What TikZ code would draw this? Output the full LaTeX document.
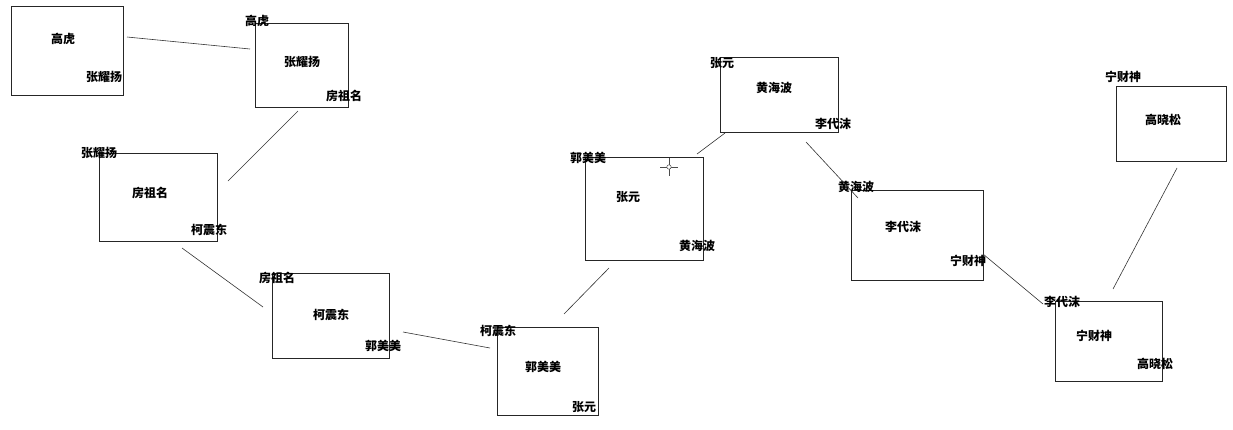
\documentclass[tikz,border=0pt]{standalone}
\usepackage{fontspec}
\newfontfamily\cjk{Noto Sans CJK SC}
\begin{document}
\begin{tikzpicture}[x=1pt,y=-1pt,
  box/.style={draw=black!85,line width=0.9pt},
  lbl/.style={inner sep=0pt,font=\cjk\fontsize{12}{12}\selectfont\bfseries},
  link/.style={draw=black!80,line width=0.6pt}]
\useasboundingbox (0,0) rectangle (1233,429);
% boxes
\draw[box] (11,6) rectangle (123,95) coordinate (b1);
\draw[box] (255,23) rectangle (348,107);
\draw[box] (99,153) rectangle (217,241);
\draw[box] (272,273) rectangle (389,358);
\draw[box] (497,327) rectangle (598,415);
\draw[box] (585,157) rectangle (703,260);
\draw[box] (720,57) rectangle (838,132);
\draw[box] (851,190) rectangle (983,280);
\draw[box] (1055,301) rectangle (1162,381);
\draw[box] (1116,86) rectangle (1226,161);
% labels
\node[lbl] (c1) at (63,39) {高虎};
\node[lbl] (r1) at (104,77) {张耀扬};
\node[lbl] (t2) at (257,21) {高虎};
\node[lbl] (c2) at (302,62) {张耀扬};
\node[lbl] (r2) at (344,96) {房祖名};
\node[lbl] (t3) at (99,153) {张耀扬};
\node[lbl] (c3) at (150,193) {房祖名};
\node[lbl] (r3) at (209,230) {柯震东};
\node[lbl] (t4) at (277,278) {房祖名};
\node[lbl] (c4) at (331,315) {柯震东};
\node[lbl] (r4) at (383,346) {郭美美};
\node[lbl] (t5) at (498,331) {柯震东};
\node[lbl] (c5) at (543,367) {郭美美};
\node[lbl] (r5) at (584,407) {张元};
\node[lbl] (t6) at (588,158) {郭美美};
\node[lbl] (c6) at (628,197) {张元};
\node[lbl] (r6) at (697,246) {黄海波};
\node[lbl] (t7) at (722,63) {张元};
\node[lbl] (c7) at (774,88) {黄海波};
\node[lbl] (r7) at (833,124) {李代沫};
\node[lbl] (t8) at (856,187) {黄海波};
\node[lbl] (c8) at (903,227) {李代沫};
\node[lbl] (r8) at (968,261) {宁财神};
\node[lbl] (t9) at (1062,302) {李代沫};
\node[lbl] (c9) at (1094,336) {宁财神};
\node[lbl] (r9) at (1155,364) {高晓松};
\node[lbl] (t10) at (1123,77) {宁财神};
\node[lbl] (c10) at (1163,120) {高晓松};
% connector ends
\coordinate (a1) at (127,37);   \coordinate (a2) at (250,49);
\coordinate (a3) at (298,111);  \coordinate (a4) at (228,181);
\coordinate (a5) at (182,248);  \coordinate (a6) at (263,307);
\coordinate (a7) at (403,332);  \coordinate (a8) at (490,348);
\coordinate (a9) at (564,314);  \coordinate (a10) at (609,268);
\coordinate (a11) at (697,154); \coordinate (a12) at (725,133);
\coordinate (a13) at (806,142); \coordinate (a14) at (858,198);
\coordinate (a15) at (983,254); \coordinate (a16) at (1043,304);
\coordinate (a17) at (1113,289);\coordinate (a18) at (1177,168);
\draw[link] (a1) -- (a2);
\draw[link] (a3) -- (a4);
\draw[link] (a5) -- (a6);
\draw[link] (a7) -- (a8);
\draw[link] (a9) -- (a10);
\draw[link] (a11) -- (a12);
\draw[link] (a13) -- (a14);
\draw[link] (a15) -- (a16);
\draw[link] (a17) -- (a18);
% cursor
\draw[black!70,line width=0.6pt] (660,167) -- (678,167) (669,158) -- (669,176);
\draw[black!70,line width=0.5pt,fill=white] (669,167) circle (2.2);
\end{tikzpicture}
\end{document}
